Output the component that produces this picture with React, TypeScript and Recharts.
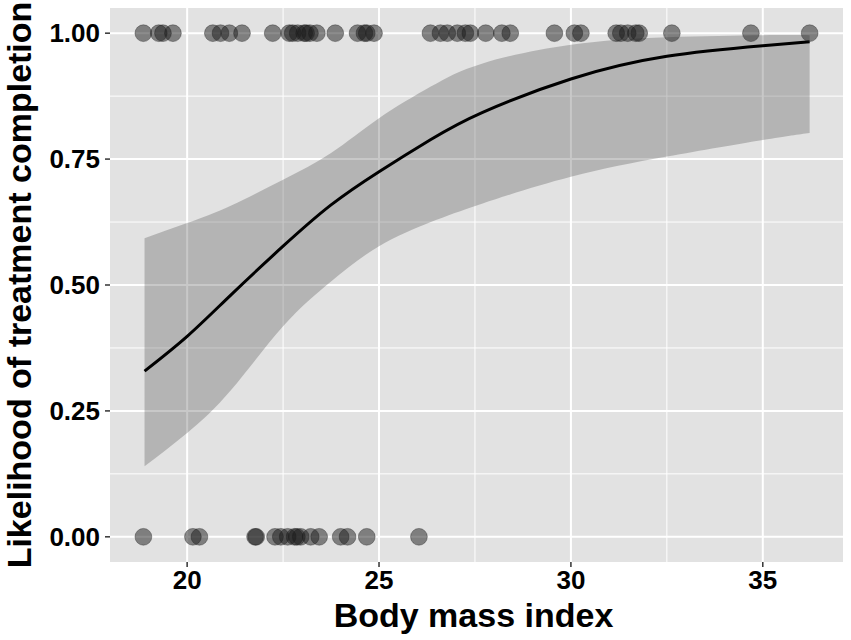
import * as React from 'react';
import {ComposedChart, Area, Line, Scatter, XAxis, YAxis, CartesianGrid} from 'recharts';

// logistic fit
const fitBmi = [18.89, 20, 21.15, 22.5, 23.75, 25, 26.35, 27.7, 30, 32.5, 35, 36.22];
const fitProb = [0.329, 0.398, 0.481, 0.577, 0.659, 0.725, 0.789, 0.843, 0.909, 0.954, 0.975, 0.983];
const fitLow = [0.14, 0.206, 0.292, 0.418, 0.507, 0.577, 0.625, 0.662, 0.715, 0.755, 0.788, 0.802];
const fitHigh = [0.593, 0.623, 0.658, 0.709, 0.762, 0.831, 0.894, 0.94, 0.977, 0.992, 0.996, 0.996];

// observations
const completedBmi = [
    18.86, 19.26, 19.37, 19.63, 20.67, 20.87, 21.1, 21.43, 22.23, 22.66, 22.75, 22.88, 23.05, 23.1,
    23.2, 23.38, 23.86, 24.44, 24.62, 24.68, 24.87, 26.34, 26.6, 26.78, 27.04, 27.25, 27.38, 27.78,
    28.2, 28.42, 29.57, 30.09, 30.26, 31.18, 31.3, 31.48, 31.69, 31.78, 32.63, 34.69, 36.22
];
const droppedBmi = [
    18.86, 20.15, 20.32, 21.77, 21.8, 22.29, 22.44, 22.62, 22.8, 22.86, 22.96, 23.22, 23.44,
    24.0, 24.18, 24.68, 26.04
];

const xTicks = [20, 25, 30, 35];
const xMinor = [22.5, 27.5, 32.5];
const yTicks = [0, 0.25, 0.5, 0.75, 1];
const yMinor = [0.125, 0.375, 0.625, 0.875];

const curve = fitBmi.map((bmi, i) => ({bmi, fit: fitProb[i], band: [fitLow[i], fitHigh[i]]}));
const points = [
    ...completedBmi.map(bmi => ({bmi, done: 1})),
    ...droppedBmi.map(bmi => ({bmi, done: 0}))
];

const font = '"Liberation Sans", Arial, Helvetica, sans-serif';
const tickStyle = {fill: '#000', fontSize: 26, fontWeight: 700, fontFamily: font};

const YTitle = (props: any) => {
    const vb = props.viewBox || {x: 0, y: 8, width: 110, height: 554};
    const cx = vb.x + 31;
    const cy = vb.y + vb.height / 2;
    return (
        <text x={cx} y={cy} transform={`rotate(-90 ${cx} ${cy})`} textAnchor="middle"
            fill="#000" fontSize={34} fontWeight={700} fontFamily={font}>
            Likelihood of treatment completion
        </text>
    );
};

const XTitle = (props: any) => {
    const vb = props.viewBox || {x: 110, y: 562, width: 733, height: 78};
    return (
        <text x={vb.x + vb.width / 2 - 3} y={vb.y + 65} textAnchor="middle"
            fill="#000" fontSize={34} fontWeight={700} fontFamily={font}>
            Body mass index
        </text>
    );
};

const Dot = (p: any) => (
    <circle cx={p.cx} cy={p.cy} r={8.4} fill="#1a1a1a" fillOpacity={0.5}
        stroke="#1a1a1a" strokeOpacity={0.35} strokeWidth={1} />
);

export default function App() {
    return (
        <div style={{position: 'absolute', left: 0, top: 0, width: 851, height: 640, background: '#fff'}}>
            <ComposedChart width={851} height={640} data={curve}
                margin={{top: 8, right: 8, bottom: 0, left: 0}}>
                <CartesianGrid fill="#e2e2e2" stroke="#fff" strokeWidth={1}
                    horizontalValues={yMinor} verticalValues={xMinor} />
                <CartesianGrid stroke="#fff" strokeWidth={2}
                    horizontalValues={yTicks} verticalValues={xTicks} />
                <XAxis dataKey="bmi" type="number" domain={[17.99, 37.09]} allowDataOverflow
                    ticks={xTicks} height={78} axisLine={false}
                    tickLine={{stroke: '#333', strokeWidth: 1.5}} tickSize={5} tickMargin={4}
                    tick={tickStyle} label={<XTitle />} />
                <YAxis type="number" domain={[-0.05, 1.05]} allowDataOverflow ticks={yTicks}
                    width={110} axisLine={false} tickLine={{stroke: '#333', strokeWidth: 1.5}}
                    tickSize={5} tickMargin={5} tick={tickStyle}
                    tickFormatter={(v: number) => v.toFixed(2)} label={<YTitle />} />
                <Area dataKey="band" type="natural" fill="#4e4e4e" fillOpacity={0.31}
                    stroke="none" isAnimationActive={false} />
                <Line dataKey="fit" type="natural" stroke="#000" strokeWidth={3} dot={false}
                    isAnimationActive={false} />
                <Scatter data={points} dataKey="done" shape={<Dot />} isAnimationActive={false} />
            </ComposedChart>
        </div>
    );
}
